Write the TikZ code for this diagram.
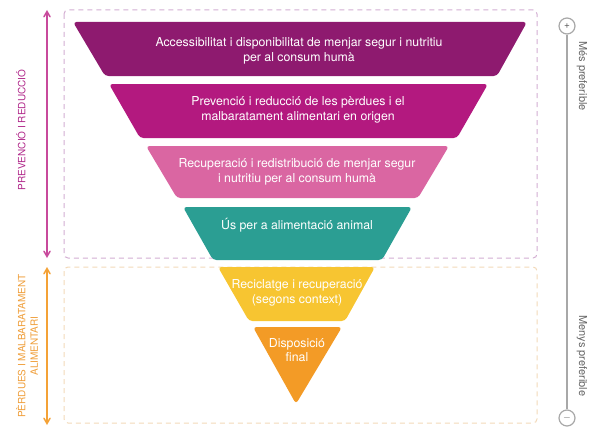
\documentclass[tikz,border=0pt]{standalone}
\usepackage{fontspec}
\setmainfont{TeX Gyre Heros}
\usetikzlibrary{arrows}
\definecolor{bandA}{HTML}{8E1A6F}
\definecolor{bandB}{HTML}{B3197F}
\definecolor{bandC}{HTML}{DA66A2}
\definecolor{bandD}{HTML}{2B9E93}
\definecolor{bandE}{HTML}{F7C531}
\definecolor{bandF}{HTML}{F39B26}
\definecolor{pinkline}{HTML}{C84A9C}
\definecolor{orangeline}{HTML}{F4A236}
\definecolor{boxpink}{HTML}{D3AED2}
\definecolor{boxorange}{HTML}{F2D9B8}
\definecolor{scalegray}{HTML}{A8A8A8}
\definecolor{pinktext}{HTML}{B0288A}
\definecolor{orangetext}{HTML}{EF9E3A}

\begin{document}
\begin{tikzpicture}[x=1pt,y=-1pt,
  band/.style={rounded corners=3.5pt},
  bandtext/.style={text=white,align=center,font=\fontsize{12.3}{14.5}\selectfont},
  frame/.style={dash pattern=on 5pt off 4pt,line width=1pt,rounded corners=4pt},
  sidetext/.style={align=center,font=\fontsize{10}{12.5}\selectfont},
  scaletext/.style={text=gray!80!black,font=\fontsize{11}{13}\selectfont},
  knob/.style={circle,draw=scalegray,line width=1.2pt,fill=white,minimum size=16pt,inner sep=0pt,text=gray!70!black,font=\fontsize{10}{10}\selectfont}]
\useasboundingbox (0,0) rectangle (591,428);
%\draw[help lines,step=50] (0,0) grid (591,428);
\draw[frame,draw=boxpink] (64,10) rectangle (537,258);
\draw[frame,draw=boxorange] (64,267) rectangle (537,423);
\fill[band,bandA] (73,22) -- (527,22) -- (497,76) -- (105,76) -- cycle;
\fill[band,bandB] (109,84) -- (488,84) -- (457,138) -- (140,138) -- cycle;
\fill[band,bandC] (146,146) -- (449,146) -- (418,198) -- (177,198) -- cycle;
\fill[band,bandD] (183,207) -- (412,207) -- (382,260) -- (213,260) -- cycle;
\fill[band,bandE] (218,267) -- (375,267) -- (345,321) -- (249,321) -- cycle;
\fill[band,bandF] (253,327) -- (342,327) -- (296,404) -- cycle;
\node[bandtext] (accessibilitat) at (299,51) {Accessibilitat i disponibilitat de menjar segur i nutritiu\\per al consum humà};
\node[bandtext] (prevencio) at (298,110) {Prevenció i reducció de les pèrdues i el\\malbaratament alimentari en origen};
\node[bandtext] (recuperacio) at (297,172) {Recuperació i redistribució de menjar segur\\i nutritiu per al consum humà};
\node[bandtext] (animal) at (297,225) {Ús per a alimentació animal};
\node[bandtext] (reciclatge) at (297,293) {Reciclatge i recuperació\\(segons context)};
\node[bandtext] (disposicio) at (297,350) {Disposició\\final};
\coordinate (prevtop) at (47,10);
\coordinate (prevbot) at (47,258);
\coordinate (perdtop) at (47,267);
\coordinate (perdbot) at (47,425);
\draw[<->,>=angle 60,line width=1.5pt,pinkline] (prevtop) -- (prevbot);
\draw[<->,>=angle 60,line width=1.5pt,orangeline] (perdtop) -- (perdbot);
\node[sidetext,text=pinktext,rotate=90] (prevlabel) at (21,130) {PREVENCIÓ I REDUCCIÓ};
\node[sidetext,text=orangetext,rotate=90] (perdlabel) at (27,346) {PÈRDUES I MALBARATAMENT\\ALIMENTARI};
\node[knob] (mes) at (567,26) {+};
\node[knob] (menys) at (567,418) {$-$};
\draw[scalegray,line width=1.8pt] (mes) -- (menys);
\node[scaletext,rotate=-90] (meslabel) at (582,76) {Més preferible};
\node[scaletext,rotate=-90] (menyslabel) at (582,356) {Menys preferible};
\end{tikzpicture}
\end{document}
